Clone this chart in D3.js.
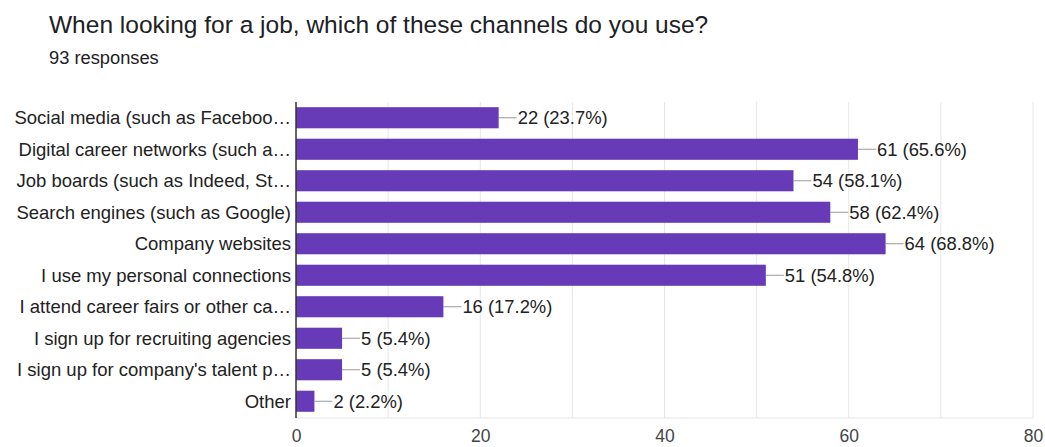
<!DOCTYPE html>
<html><head><meta charset="utf-8">
<script src="https://cdn.jsdelivr.net/npm/d3@7"></script>
<style>body{margin:0;background:#fff}svg{display:block}</style>
</head><body>
<script>
const categories = [
  "Social media (such as Faceboo…",
  "Digital career networks (such a…",
  "Job boards (such as Indeed, St…",
  "Search engines (such as Google)",
  "Company websites",
  "I use my personal connections",
  "I attend career fairs or other ca…",
  "I sign up for recruiting agencies",
  "I sign up for company's talent p…",
  "Other"
];
const counts = [22, 61, 54, 58, 64, 51, 16, 5, 5, 2];
const percents = ["23.7%", "65.6%", "58.1%", "62.4%", "68.8%", "54.8%", "17.2%", "5.4%", "5.4%", "2.2%"];
const tickValues = [0, 20, 40, 60, 80];
const gridValues = [10, 20, 30, 40, 50, 60, 70, 80];
const title = "When looking for a job, which of these channels do you use?";
const subtitle = "93 responses";

const FONT = "Arial, 'Liberation Sans', Helvetica, sans-serif";
const W = 1045, H = 447;
const svg = d3.select("body").append("svg").attr("width", W).attr("height", H)
  .style("font-family", FONT);

svg.append("text").attr("x", 49).attr("y", 33).attr("font-size", 24.5).attr("fill", "#202124").text(title);
svg.append("text").attr("x", 49).attr("y", 64).attr("font-size", 18.3).attr("fill", "#202124").text(subtitle);

const x = d3.scaleLinear().domain([0, 80]).range([296, 1033]);
const y = d3.scaleBand().domain(categories).range([102, 417]).paddingInner(0.33).paddingOuter(0.165);

// gridlines
svg.append("g").selectAll("line").data(gridValues).join("line")
  .attr("x1", d => x(d)).attr("x2", d => x(d)).attr("y1", 102).attr("y2", 418)
  .attr("stroke", "#e6e6e6").attr("stroke-width", 1);
svg.append("line").attr("x1", x(0)).attr("x2", x(80)).attr("y1", 418).attr("y2", 418)
  .attr("stroke", "#e6e6e6");

// bars
svg.append("g").selectAll("rect").data(counts).join("rect")
  .attr("x", x(0)).attr("y", (d, i) => y(categories[i]))
  .attr("width", d => x(d) - x(0)).attr("height", y.bandwidth())
  .attr("fill", "#673ab7");

// connectors and value labels
const lab = svg.append("g");
counts.forEach((d, i) => {
  const cy = y(categories[i]) + y.bandwidth() / 2;
  lab.append("line").attr("x1", x(d)).attr("x2", x(d) + 18).attr("y1", cy).attr("y2", cy)
    .attr("stroke", "#999").attr("stroke-width", 1);
  lab.append("text").attr("x", x(d) + 19).attr("y", cy).attr("dy", "0.35em")
    .attr("font-size", 18.4).attr("fill", "#222").text(`${d} (${percents[i]})`);
});

// zero axis
svg.append("line").attr("x1", x(0)).attr("x2", x(0)).attr("y1", 102).attr("y2", 418)
  .attr("stroke", "#333").attr("stroke-width", 1.5);

// category labels
svg.append("g").selectAll("text").data(categories).join("text")
  .attr("x", 291).attr("y", d => y(d) + y.bandwidth() / 2).attr("dy", "0.35em")
  .attr("text-anchor", "end").attr("font-size", 18.5).attr("fill", "#222").text(d => d);

// x axis
const xAxis = d3.axisBottom(x).tickValues(tickValues).tickSize(0).tickPadding(0);
const gx = svg.append("g").attr("transform", "translate(0,430)").call(xAxis);
gx.select(".domain").remove();
gx.selectAll("text").attr("font-size", 17.5).attr("fill", "#444").attr("dy", "0.71em")
  .style("font-family", FONT);
</script>
</body></html>
